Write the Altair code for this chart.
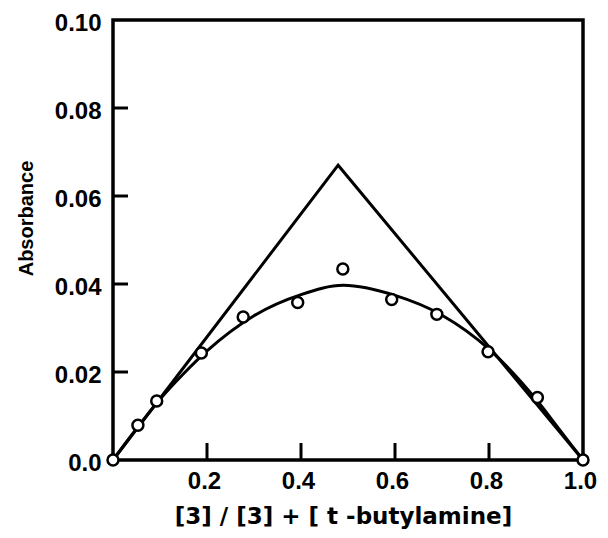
import altair as alt
import pandas as pd

# measured points
pt_x = [0.0, 0.053, 0.093, 0.188, 0.277, 0.393, 0.489, 0.593, 0.689, 0.798, 0.903, 1.0]
pt_y = [0.0, 0.0079, 0.0134, 0.0243, 0.0325, 0.0358, 0.0434, 0.0365, 0.0331, 0.0246, 0.0142, 0.0]

# fitted smooth curve
cv_x = [0.0, 0.05, 0.1, 0.15, 0.2, 0.3, 0.4, 0.49, 0.6, 0.7, 0.8, 0.9, 0.95, 1.0]
cv_y = [0.0, 0.0071, 0.0138, 0.0196, 0.0248, 0.0328, 0.0376, 0.0397, 0.0374, 0.0329, 0.0252, 0.0138, 0.0069, 0.0]

# limiting triangle
tri_x = [0.0, 0.479, 1.0]
tri_y = [0.0, 0.0670, 0.0]

x_ticks = [0.2, 0.4, 0.6, 0.8]
y_ticks = [0.02, 0.04, 0.06, 0.08]
x_labels = [0.2, 0.4, 0.6, 0.8, 1.0]
y_labels = [0.0, 0.02, 0.04, 0.06, 0.08, 0.10]

W, H = 470, 440
FONT = "Liberation Sans"

pts = pd.DataFrame({"x": pt_x, "y": pt_y})
cv = pd.DataFrame({"x": cv_x, "y": cv_y})
tri = pd.DataFrame({"x": tri_x, "y": tri_y})
xt = pd.DataFrame({"v": x_ticks})
yt = pd.DataFrame({"v": y_ticks})

xscale = alt.Scale(domain=[0, 1], nice=False, zero=False)
yscale = alt.Scale(domain=[0, 0.1], nice=False, zero=False)

xaxis = alt.Axis(
    values=x_labels, domain=False, ticks=False, grid=False,
    labelExpr="format(datum.value, '.1f')",
    labelFont=FONT, labelFontSize=24, labelFontWeight="bold", labelColor="black",
    labelPadding=9, labelFlush=False, labelOffset=-3,
    title="[3] / [3] + [ t -butylamine]",
    titleFont="DejaVu Sans", titleFontSize=23, titleFontWeight="bold", titleColor="black",
    titlePadding=12, titleX=230,
)
yaxis = alt.Axis(
    values=y_labels, domain=False, ticks=False, grid=False,
    labelExpr="datum.value == 0 ? '0.0' : format(datum.value, '.2f')",
    labelFont=FONT, labelFontSize=24, labelFontWeight="bold", labelColor="black",
    labelPadding=12, labelFlush=False, labelOffset=3,
    title="Absorbance",
    titleFont=FONT, titleFontSize=20, titleFontWeight="bold", titleColor="black",
    titleX=-87, titleY=198, titleBaseline="middle", titleAngle=-90,
)

tri_line = alt.Chart(tri).mark_line(color="black", strokeWidth=3, clip=False).encode(
    x=alt.X("x:Q", scale=xscale, axis=xaxis),
    y=alt.Y("y:Q", scale=yscale, axis=yaxis),
    order="x:Q",
)
curve = alt.Chart(cv).mark_line(color="black", strokeWidth=3, interpolate="monotone").encode(
    x=alt.X("x:Q", scale=xscale),
    y=alt.Y("y:Q", scale=yscale),
    order="x:Q",
)
points = alt.Chart(pts).mark_point(
    shape="circle", filled=False, fill="white", fillOpacity=1,
    stroke="black", strokeWidth=2.5, size=120, opacity=1, clip=False,
).encode(
    x=alt.X("x:Q", scale=xscale),
    y=alt.Y("y:Q", scale=yscale),
)
xtick_marks = alt.Chart(xt).mark_rule(color="black", strokeWidth=3).encode(
    x=alt.X("v:Q", scale=xscale),
    y=alt.value(H),
    y2=alt.value(H - 17),
)
ytick_marks = alt.Chart(yt).mark_rule(color="black", strokeWidth=3).encode(
    y=alt.Y("v:Q", scale=yscale),
    x=alt.value(0),
    x2=alt.value(15),
)

chart = alt.layer(tri_line, curve, xtick_marks, ytick_marks, points).properties(
    width=W, height=H,
    autosize=alt.AutoSizeParams(type="none"),
    padding={"left": 105, "top": 12, "right": 17, "bottom": 70},
    background="white",
).configure_view(stroke="black", strokeWidth=3.5)

chart.save("out.html", embed_options={"renderer": "svg", "actions": False})
